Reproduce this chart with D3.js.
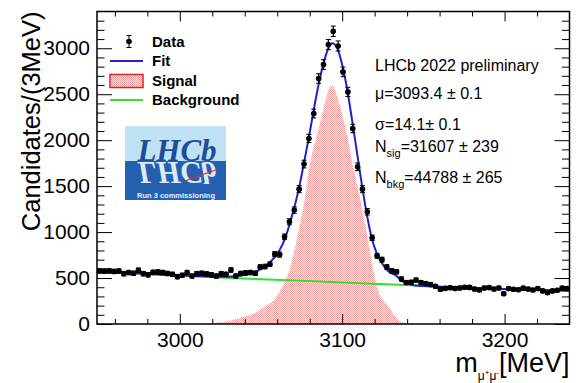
<!DOCTYPE html>
<html>
<head>
<meta charset="utf-8">
<script src="https://cdn.jsdelivr.net/npm/d3@7"></script>
<style>
  body { margin: 0; background: #fff; }
  svg { display: block; font-family: "Liberation Sans", Arial, Helvetica, sans-serif; }
</style>
</head>
<body>
<svg id="chart" width="583" height="383"></svg>
<script>
// histogram: 3 MeV bins starting at 2949 MeV
const binLow = 2949;
const binWidth = 3;
const counts = [
  578, 575, 578, 572, 576, 548, 560, 552, 585, 548,
  535, 562, 566, 560, 550, 540, 515, 530, 560, 522,
  548, 552, 545, 535, 522, 548, 540, 588, 522, 550,
  556, 560, 552, 620, 625, 650, 760, 755, 949, 1112,
  1239, 1467, 1740, 2019, 2290, 2671, 2823, 3040, 3185, 3025,
  2743, 2525, 2127, 1710, 1467, 1221, 938, 742, 700, 620,
  578, 568, 490, 451, 455, 478, 452, 440, 430, 410,
  378, 388, 395, 385, 392, 400, 398, 380, 370, 392,
  396, 380, 392, 330, 385, 378, 372, 390, 380, 370,
  385, 360, 340, 360, 368, 390, 385
];

// fit curve (total)
const fitMass = [2949, 3000, 3030, 3040, 3048, 3056, 3061, 3065, 3068, 3071,
  3074, 3077, 3080, 3083, 3086, 3089, 3092, 3094, 3097, 3100,
  3103, 3106, 3109, 3112, 3115, 3118, 3121.5, 3124.5, 3127.5, 3134,
  3137, 3145, 3200, 3240];
const fitVals = [571, 530, 515, 535, 578, 680, 790, 940, 1110, 1300,
  1530, 1800, 2080, 2380, 2650, 2870, 3020, 3055, 3000, 2820,
  2560, 2230, 1880, 1530, 1210, 950, 760, 660, 590, 515,
  465, 420, 382, 362];

// signal component
const sigMass = [3015, 3033, 3049, 3062, 3068, 3073, 3077, 3080, 3084.5, 3088.5,
  3091, 3093.5, 3096, 3099, 3103, 3106.5, 3111, 3115, 3118.5, 3122,
  3128.5, 3136, 3145];
const sigVals = [0, 45, 150, 370, 620, 1000, 1365, 1730, 2055, 2345,
  2520, 2595, 2530, 2345, 2055, 1730, 1365, 1000, 640, 370,
  190, 25, 0];

// background component
const bkgMass = [2949, 3000, 3050, 3100, 3150, 3200, 3240];
const bkgVals = [570, 524, 487, 452, 415, 382, 362];

const xMajor = [3000, 3100, 3200];
const xMinor = [2960, 2980, 3020, 3040, 3060, 3080, 3120, 3140, 3160, 3180, 3220];
const yMajor = [0, 500, 1000, 1500, 2000, 2500, 3000];
const yMinor = [100, 200, 300, 400, 600, 700, 800, 900, 1100, 1200, 1300, 1400,
  1600, 1700, 1800, 1900, 2100, 2200, 2300, 2400, 2600, 2700, 2800, 2900,
  3100, 3200, 3300];

const legendItems = ['Data', 'Fit', 'Signal', 'Background'];

const svg = d3.select('#chart');
const pL = 97, pR = 569.5, pT = 11.5, pB = 324;

const x = d3.scaleLinear().domain([2949, 3240]).range([pL, pR]);
const y = d3.scaleLinear().domain([0, 3400]).range([pB, pT]);

const defs = svg.append('defs');
const pat = defs.append('pattern')
  .attr('id', 'checker')
  .attr('patternUnits', 'userSpaceOnUse')
  .attr('width', 2).attr('height', 2);
pat.append('rect').attr('width', 1).attr('height', 1).attr('fill', '#f29494');
pat.append('rect').attr('x', 1).attr('y', 1).attr('width', 1).attr('height', 1).attr('fill', '#f29494');

defs.append('clipPath').attr('id', 'clip')
  .append('rect')
  .attr('x', pL).attr('y', pT)
  .attr('width', pR - pL).attr('height', pB - pT);

const plot = svg.append('g').attr('clip-path', 'url(#clip)');

// signal (hatched)
const sigData = sigMass.map((m, i) => [m, sigVals[i]]);
plot.append('path')
  .datum(sigData)
  .attr('d', d3.area()
    .x(d => x(d[0]))
    .y0(y(0))
    .y1(d => y(d[1]))
    .curve(d3.curveMonotoneX))
  .attr('fill', 'url(#checker)');

// background
const bkgData = bkgMass.map((m, i) => [m, bkgVals[i]]);
plot.append('path')
  .datum(bkgData)
  .attr('d', d3.line().x(d => x(d[0])).y(d => y(d[1])).curve(d3.curveMonotoneX))
  .attr('fill', 'none')
  .attr('stroke', '#33dd33')
  .attr('stroke-width', 2);

// total fit
const fitData = fitMass.map((m, i) => [m, fitVals[i]]);
plot.append('path')
  .datum(fitData)
  .attr('d', d3.line().x(d => x(d[0])).y(d => y(d[1])).curve(d3.curveMonotoneX))
  .attr('fill', 'none')
  .attr('stroke', '#2222cc')
  .attr('stroke-width', 2);

// data points with errors
const bins = counts.map((c, i) => ({
  lo: binLow + binWidth * i,
  m: binLow + binWidth * (i + 0.5),
  hi: binLow + binWidth * (i + 1),
  c: c,
  e: Math.sqrt(c)
}));

const pts = plot.append('g').selectAll('g')
  .data(bins)
  .enter().append('g');

pts.append('line') // vertical error
  .attr('x1', d => x(d.m)).attr('x2', d => x(d.m))
  .attr('y1', d => y(d.c - d.e)).attr('y2', d => y(d.c + d.e))
  .attr('stroke', '#000').attr('stroke-width', 1.2);
pts.append('line') // bin width
  .attr('x1', d => x(d.lo)).attr('x2', d => x(d.hi))
  .attr('y1', d => y(d.c)).attr('y2', d => y(d.c))
  .attr('stroke', '#000').attr('stroke-width', 1.2);
pts.append('line') // top cap
  .attr('x1', d => x(d.m) - 2.5).attr('x2', d => x(d.m) + 2.5)
  .attr('y1', d => y(d.c + d.e)).attr('y2', d => y(d.c + d.e))
  .attr('stroke', '#000').attr('stroke-width', 1);
pts.append('line') // bottom cap
  .attr('x1', d => x(d.m) - 2.5).attr('x2', d => x(d.m) + 2.5)
  .attr('y1', d => y(d.c - d.e)).attr('y2', d => y(d.c - d.e))
  .attr('stroke', '#000').attr('stroke-width', 1);
pts.append('circle')
  .attr('cx', d => x(d.m)).attr('cy', d => y(d.c))
  .attr('r', 2.8)
  .attr('fill', '#000');

// axes (ROOT style, ticks inside on all four sides)
function styleAxis(g, size) {
  g.select('.domain').remove();
  g.selectAll('.tick line').attr('stroke', '#000').attr('stroke-width', 1);
  g.attr('font-size', size).attr('font-family', '"Liberation Sans", Arial, sans-serif');
  g.selectAll('.tick text').attr('fill', '#000');
}

svg.append('g')
  .attr('transform', `translate(0,${pB})`)
  .call(d3.axisBottom(x).tickValues(xMajor).tickSize(-10).tickPadding(8).tickFormat(d3.format('d')))
  .call(g => styleAxis(g, 21));
svg.append('g')
  .attr('transform', `translate(0,${pB})`)
  .call(d3.axisBottom(x).tickValues(xMinor).tickSize(-5).tickFormat(''))
  .call(g => styleAxis(g, 10));
svg.append('g')
  .attr('transform', `translate(0,${pT})`)
  .call(d3.axisTop(x).tickValues(xMajor).tickSize(-10).tickFormat(''))
  .call(g => styleAxis(g, 10));
svg.append('g')
  .attr('transform', `translate(0,${pT})`)
  .call(d3.axisTop(x).tickValues(xMinor).tickSize(-5).tickFormat(''))
  .call(g => styleAxis(g, 10));

svg.append('g')
  .attr('transform', `translate(${pL},0)`)
  .call(d3.axisLeft(y).tickValues(yMajor).tickSize(-15).tickPadding(7).tickFormat(d3.format('d')))
  .call(g => styleAxis(g, 21));
svg.append('g')
  .attr('transform', `translate(${pL},0)`)
  .call(d3.axisLeft(y).tickValues(yMinor).tickSize(-7.5).tickFormat(''))
  .call(g => styleAxis(g, 10));
svg.append('g')
  .attr('transform', `translate(${pR},0)`)
  .call(d3.axisRight(y).tickValues(yMajor).tickSize(-15).tickFormat(''))
  .call(g => styleAxis(g, 10));
svg.append('g')
  .attr('transform', `translate(${pR},0)`)
  .call(d3.axisRight(y).tickValues(yMinor).tickSize(-7.5).tickFormat(''))
  .call(g => styleAxis(g, 10));

svg.append('rect')
  .attr('x', pL).attr('y', pT)
  .attr('width', pR - pL).attr('height', pB - pT)
  .attr('fill', 'none')
  .attr('stroke', '#000')
  .attr('stroke-width', 1.5);

// axis titles
svg.append('text')
  .attr('transform', `translate(40,${pT}) rotate(-90)`)
  .attr('text-anchor', 'end')
  .attr('font-size', 25.5)
  .text('Candidates/(3MeV)');

const xt = svg.append('text')
  .attr('x', pR).attr('y', 372)
  .attr('text-anchor', 'end')
  .attr('font-size', 27);
xt.append('tspan').text('m');
xt.append('tspan').attr('font-size', 12).attr('dy', 8).text('μ');
xt.append('tspan').attr('font-size', 8).attr('dy', -5).text('+');
xt.append('tspan').attr('font-size', 12).attr('dy', 5).text('μ');
xt.append('tspan').attr('font-size', 8).attr('dy', -5).text('-');
xt.append('tspan').attr('font-size', 27).attr('dy', -3).text('[MeV]');

// legend
const lg = svg.append('g').attr('font-size', 15).attr('font-weight', 'bold');
const lgY = [41.5, 61, 81, 100];
lg.selectAll('text')
  .data(legendItems)
  .enter().append('text')
  .attr('x', 152)
  .attr('y', (d, i) => lgY[i] + 5)
  .text(d => d);

lg.append('line').attr('x1', 129).attr('x2', 129).attr('y1', 35.5).attr('y2', 47.5).attr('stroke', '#000');
lg.append('line').attr('x1', 126.5).attr('x2', 131.5).attr('y1', 35.5).attr('y2', 35.5).attr('stroke', '#000');
lg.append('line').attr('x1', 126.5).attr('x2', 131.5).attr('y1', 47.5).attr('y2', 47.5).attr('stroke', '#000');
lg.append('circle').attr('cx', 129).attr('cy', lgY[0]).attr('r', 2.8).attr('fill', '#000');

lg.append('line').attr('x1', 110).attr('x2', 143).attr('y1', lgY[1]).attr('y2', lgY[1])
  .attr('stroke', '#2222cc').attr('stroke-width', 2);
lg.append('rect').attr('x', 110).attr('y', 74.5).attr('width', 33).attr('height', 13)
  .attr('fill', 'url(#checker)').attr('stroke', '#e02020').attr('stroke-width', 1.5);
lg.append('line').attr('x1', 110).attr('x2', 143).attr('y1', lgY[3]).attr('y2', lgY[3])
  .attr('stroke', '#33dd33').attr('stroke-width', 2);

// fit results
const info = svg.append('g').attr('font-size', 16);
info.append('text').attr('x', 375).attr('y', 71).text('LHCb 2022 preliminary');
info.append('text').attr('x', 375).attr('y', 99).text('μ=3093.4 ± 0.1');
info.append('text').attr('x', 375).attr('y', 130).text('σ=14.1± 0.1');
const ns = info.append('text').attr('x', 375).attr('y', 152);
ns.append('tspan').text('N');
ns.append('tspan').attr('font-size', 11).attr('dy', 5).text('sig');
ns.append('tspan').attr('dy', -5).text('=31607 ± 239');
const nb = info.append('text').attr('x', 375).attr('y', 183);
nb.append('tspan').text('N');
nb.append('tspan').attr('font-size', 11).attr('dy', 5).text('bkg');
nb.append('tspan').attr('dy', -5).text('=44788 ± 265');

// LHCb logo
const logo = svg.append('g');
logo.append('rect').attr('x', 125).attr('y', 126).attr('width', 101).attr('height', 35).attr('fill', '#bfe2f5');
logo.append('rect').attr('x', 125).attr('y', 161).attr('width', 101).attr('height', 39).attr('fill', '#2360b0');
logo.append('text')
  .attr('x', 177).attr('y', 160.5)
  .attr('text-anchor', 'middle')
  .attr('font-family', '"Liberation Serif", "DejaVu Serif", serif')
  .attr('font-style', 'italic').attr('font-weight', 'bold')
  .attr('font-size', 31)
  .attr('fill', '#1c4c9a')
  .text('LHCb');
logo.append('text')
  .attr('transform', 'translate(0,322) scale(1,-1)')
  .attr('x', 177).attr('y', 160.5)
  .attr('text-anchor', 'middle')
  .attr('font-family', '"Liberation Serif", "DejaVu Serif", serif')
  .attr('font-style', 'italic').attr('font-weight', 'bold')
  .attr('font-size', 31)
  .attr('fill', '#dfe9f5')
  .text('LHCb');
logo.append('line').attr('x1', 185).attr('y1', 181).attr('x2', 217).attr('y2', 169.5)
  .attr('stroke', '#e03030').attr('stroke-width', 1.3);
logo.append('text')
  .attr('x', 176).attr('y', 197.5)
  .attr('text-anchor', 'middle')
  .attr('font-size', 7.5).attr('font-weight', 'bold')
  .attr('fill', '#e6f0ff')
  .text('Run 3 commissioning');
</script>
</body>
</html>
